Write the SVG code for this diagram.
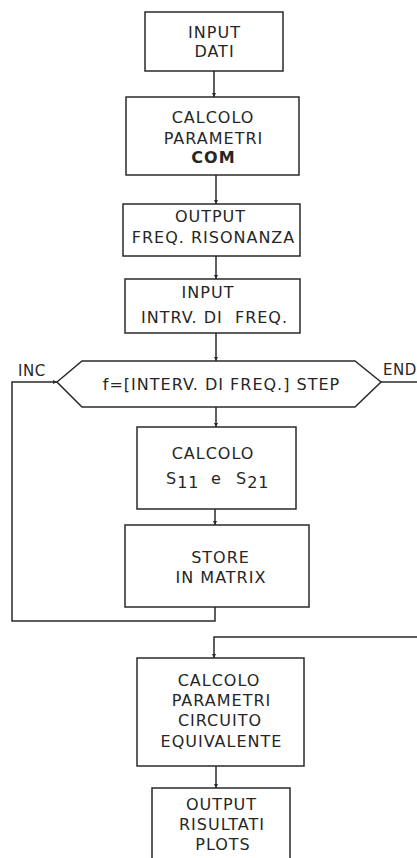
<svg xmlns="http://www.w3.org/2000/svg" width="417" height="858" viewBox="0 0 417 858">
<style>
.box{fill:#fff;stroke:#2a2a2a;stroke-width:1.5}
.t{font-family:"DejaVu Sans",Verdana,sans-serif;font-size:16px;letter-spacing:1px;fill:#262626;text-anchor:middle}
.s{text-anchor:start}
.b{font-weight:bold}
.lbl{font-family:"DejaVu Sans",Verdana,sans-serif;font-size:15px;letter-spacing:0.5px;fill:#262626}
.c{fill:none;stroke:#2a2a2a;stroke-width:1.5}
</style>
<defs>
<marker id="ah" viewBox="0 0 6 6" refX="6" refY="3" markerWidth="4" markerHeight="4" orient="auto" markerUnits="userSpaceOnUse">
<path d="M0,0 L6,3 L0,6 z" fill="#2a2a2a"/>
</marker>
</defs>
<rect width="417" height="858" fill="#fff"/>
<g id="connectors">
<path class="c" d="M214,71 V97" marker-end="url(#ah)"/>
<path class="c" d="M216,175 V204" marker-end="url(#ah)"/>
<path class="c" d="M216,256 V279" marker-end="url(#ah)"/>
<path class="c" d="M216,333 V361" marker-end="url(#ah)"/>
<path class="c" d="M216,407 V427" marker-end="url(#ah)"/>
<path class="c" d="M215,509 V525" marker-end="url(#ah)"/>
<path class="c" d="M215,607 V621 H12 V382 H57" marker-end="url(#ah)"/>
<path class="c" d="M381,382 H418"/>
<path class="c" d="M418,637 H214 V658" marker-end="url(#ah)"/>
<path class="c" d="M216,766 V788" marker-end="url(#ah)"/>
<text class="lbl" x="18" y="376">INC</text>
<text class="lbl" x="383" y="375">END</text>
</g>
<g id="input-dati">
<rect class="box" x="145" y="12" width="138" height="59"/>
<text class="t" x="214.5" y="38">INPUT</text>
<text class="t" x="214.5" y="57">DATI</text>
</g>
<g id="calcolo-com">
<rect class="box" x="126" y="97" width="173" height="78"/>
<text class="t" x="213" y="123">CALCOLO</text>
<text class="t" x="213.5" y="144">PARAMETRI</text>
<text class="t b" x="213.5" y="163">COM</text>
</g>
<g id="output-freq">
<rect class="box" x="123" y="204" width="177" height="52"/>
<text class="t" x="210.5" y="222">OUTPUT</text>
<text class="t" x="213.5" y="243">FREQ. RISONANZA</text>
</g>
<g id="input-intrv">
<rect class="box" x="125" y="279" width="175" height="54"/>
<text class="t" x="208" y="298">INPUT</text>
<text class="t" x="214.5" y="323" xml:space="preserve">INTRV. DI  FREQ.</text>
</g>
<g id="loop-decision">
<polygon class="box" points="57,382 82,361 355,361 381,382 355,407 82,407"/>
<text class="t" x="221.5" y="390">f=[INTERV. DI FREQ.] STEP</text>
</g>
<g id="calcolo-s">
<rect class="box" x="137" y="427" width="159" height="82"/>
<text class="t" x="213" y="459">CALCOLO</text>
<text class="t s" x="166" y="484">S<tspan dy="4">11</tspan><tspan x="211" dy="-4">e</tspan><tspan x="236">S</tspan><tspan dy="4">21</tspan></text>
</g>
<g id="store-matrix">
<rect class="box" x="125" y="525" width="184" height="82"/>
<text class="t" x="220.5" y="563">STORE</text>
<text class="t" x="221" y="583">IN MATRIX</text>
</g>
<g id="calcolo-circuito">
<rect class="box" x="137" y="658" width="167" height="108"/>
<text class="t" x="219" y="686">CALCOLO</text>
<text class="t" x="221.5" y="706">PARAMETRI</text>
<text class="t" x="220" y="726">CIRCUITO</text>
<text class="t" x="221.5" y="747">EQUIVALENTE</text>
</g>
<g id="output-risultati">
<rect class="box" x="152" y="788" width="138" height="80"/>
<text class="t" x="221.5" y="810">OUTPUT</text>
<text class="t" x="222" y="830">RISULTATI</text>
<text class="t" x="223" y="850">PLOTS</text>
</g>
</svg>
